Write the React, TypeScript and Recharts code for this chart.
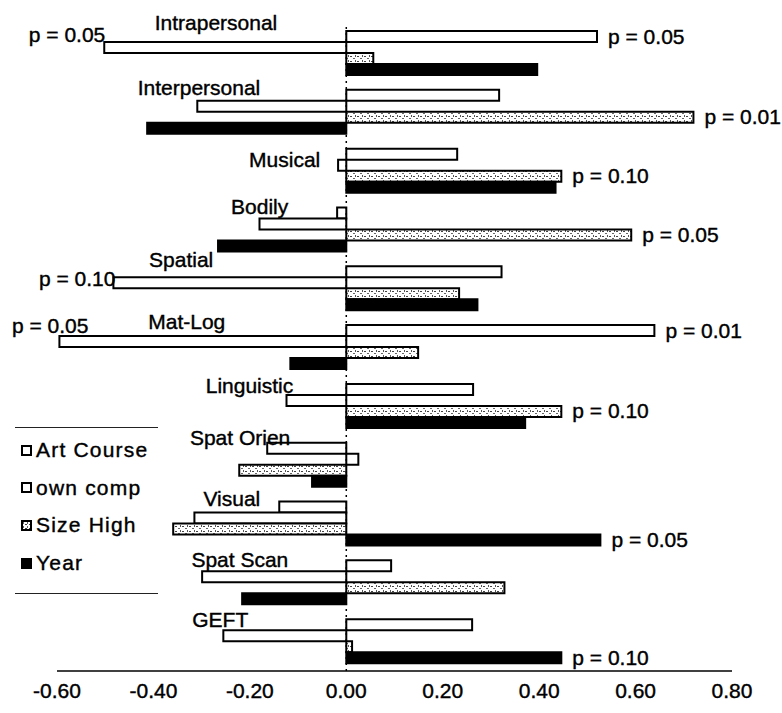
import { BarChart, Bar, XAxis, YAxis, ReferenceLine, LabelList } from 'recharts'

const CATEGORIES = [
  'Intrapersonal', 'Interpersonal', 'Musical', 'Bodily', 'Spatial', 'Mat-Log',
  'Linguistic', 'Spat Orien', 'Visual', 'Spat Scan', 'GEFT',
]

const ART_COURSE = [0.52, 0.317, 0.23, -0.019, 0.322, 0.639, 0.263, -0.164, -0.139, 0.093, 0.261]
const OWN_COMP   = [-0.502, -0.309, -0.017, -0.18, -0.483, -0.595, -0.124, 0.025, -0.315, -0.299, -0.255]
const SIZE_HIGH  = [0.056, 0.72, 0.446, 0.591, 0.234, 0.149, 0.446, -0.222, -0.359, 0.328, 0.012]
const YEAR       = [0.396, -0.413, 0.434, -0.266, 0.272, -0.116, 0.371, -0.071, 0.527, -0.216, 0.446]

// significance notes next to bars
const P_ART  = ['p = 0.05', '', '', '', '', 'p = 0.01', '', '', '', '', '']
const P_OWN  = ['p = 0.05', '', '', '', 'p = 0.10', 'p = 0.05', '', '', '', '', '']
const P_SIZE = ['', 'p = 0.01', 'p = 0.10', 'p = 0.05', '', '', 'p = 0.10', '', '', '', '']
const P_YEAR = ['', '', '', '', '', '', '', '', 'p = 0.05', '', 'p = 0.10']

const TICKS = [-0.6, -0.4, -0.2, 0, 0.2, 0.4, 0.6, 0.8]

// layout
const W = 782
const H = 713
const MARGIN = { top: 24, right: 50, bottom: 12, left: 57 }
const X_AXIS_H = 30
const DOMAIN: [number, number] = [-0.6, 0.8]
const PLOT_W = W - MARGIN.left - MARGIN.right
const ZERO_X = MARGIN.left + ((0 - DOMAIN[0]) / (DOMAIN[1] - DOMAIN[0])) * PLOT_W
const CAT_GAP = 7
const FONT = '"Liberation Sans", Arial, sans-serif'

// category label placement: right end relative to zero line, baseline from band top
const LABEL_DX = [-69, -86, -26, -58, -133, -121, -53, -56, -86, -58, -98]
const LABEL_BASE = [6, 12, 25, 14, 8, 11, 16, 9, 11, 14, 15]
const P_OFFSET: Record<string, [number, number]> = {
  'own-0': [1, -13],
  'own-4': [2, -4],
  'own-5': [29, -16],
}

const data = CATEGORIES.map((name, i) => ({
  name,
  art: ART_COURSE[i],
  own: OWN_COMP[i],
  size: SIZE_HIGH[i],
  year: YEAR[i],
  pArt: P_ART[i],
  pOwn: P_OWN[i],
  pSize: P_SIZE[i],
  pYear: P_YEAR[i],
}))

const textProps = {
  fontFamily: FONT,
  fontSize: 21,
  fill: '#000',
  stroke: '#000',
  strokeWidth: 0.4,
}

// category name drawn above its group, keyed off the first bar's top edge
function categoryLabel(props: any) {
  const { y, value, index } = props
  const bandTop = y - CAT_GAP
  return (
    <text
      x={ZERO_X + LABEL_DX[index]}
      y={bandTop + LABEL_BASE[index]}
      textAnchor="end"
      {...textProps}
    >
      {value}
    </text>
  )
}

const pLabel = (key: string) => (props: any) => {
  const { x, y, width, height, value, index } = props
  if (!value) return null
  const left = Math.min(x, x + width)
  const right = Math.max(x, x + width)
  const cy = y + height / 2
  const [dx, dy] = P_OFFSET[`${key}-${index}`] || [0, 0]
  const negative = right <= ZERO_X + 1
  return (
    <text
      x={negative ? left + dx : right + 11 + dx}
      y={cy + 7 + dy}
      textAnchor={negative ? 'end' : 'start'}
      {...textProps}
    >
      {value}
    </text>
  )
}

const legendItems = [
  { label: 'Art Course', fill: '#fff' },
  { label: 'own comp', fill: '#fff' },
  { label: 'Size High', fill: 'speck' },
  { label: 'Year', fill: '#000' },
]

function Legend() {
  return (
    <div style={{ position: 'absolute', left: 15, top: 427, width: 143, height: 165, borderTop: '1.5px solid #222', borderBottom: '1.5px solid #222', fontFamily: FONT }}>
      {legendItems.map((it, i) => (
        <div key={it.label} style={{ position: 'absolute', left: 6, top: 10 + i * 37.7, height: 24, display: 'flex', alignItems: 'center' }}>
          <svg width={11} height={11} style={{ marginRight: 4 }}>
            <defs>
              <pattern id={`lg${i}`} width={4} height={4} patternUnits="userSpaceOnUse">
                <rect width={4} height={4} fill="#fff" />
                <rect x={0} y={0} width={2} height={1} fill="#444" />
                <rect x={2} y={2} width={1} height={2} fill="#666" />
              </pattern>
            </defs>
            <rect x={1} y={1} width={9} height={9} fill={it.fill === 'speck' ? `url(#lg${i})` : it.fill} stroke="#000" strokeWidth={2} />
          </svg>
          <span style={{ fontSize: 21, letterSpacing: 1.2, color: '#000', lineHeight: '24px', WebkitTextStroke: '0.4px #000' }}>{it.label}</span>
        </div>
      ))}
    </div>
  )
}

export default function App() {
  return (
    <div style={{ position: 'absolute', left: 0, top: 0, width: W, height: H, background: '#fff' }}>
      <BarChart
        width={W}
        height={H}
        data={data}
        layout="vertical"
        margin={MARGIN}
        barCategoryGap={CAT_GAP}
        barGap={0}
      >
        <defs>
          <pattern id="speck" width={7} height={5} patternUnits="userSpaceOnUse">
            <rect width={7} height={5} fill="#fff" />
            <rect x={0} y={1} width={2} height={1} fill="#444" />
            <rect x={3} y={3} width={2} height={1} fill="#666" />
            <rect x={5} y={0} width={1} height={2} fill="#555" />
          </pattern>
        </defs>
        <XAxis
          type="number"
          domain={DOMAIN}
          ticks={TICKS}
          tickFormatter={(v: number) => v.toFixed(2)}
          height={X_AXIS_H}
          tickLine={false}
          tickSize={0}
          tickMargin={12}
          axisLine={{ stroke: '#000', strokeWidth: 1.5 }}
          tick={{ fontSize: 21, fill: '#000', fontFamily: FONT, stroke: '#000', strokeWidth: 0.4 }}
          allowDataOverflow
        />
        <YAxis type="category" dataKey="name" hide />
        <ReferenceLine x={0} stroke="#000" strokeDasharray="2 4" strokeWidth={1.5} />
        <Bar dataKey="art" fill="#fff" stroke="#000" strokeWidth={2} isAnimationActive={false}>
          <LabelList dataKey="name" content={categoryLabel} />
          <LabelList dataKey="pArt" content={pLabel('art')} />
        </Bar>
        <Bar dataKey="own" fill="#fff" stroke="#000" strokeWidth={2} isAnimationActive={false}>
          <LabelList dataKey="pOwn" content={pLabel('own')} />
        </Bar>
        <Bar dataKey="size" fill="url(#speck)" stroke="#000" strokeWidth={2} isAnimationActive={false}>
          <LabelList dataKey="pSize" content={pLabel('size')} />
        </Bar>
        <Bar dataKey="year" fill="#000" stroke="#000" strokeWidth={2} isAnimationActive={false}>
          <LabelList dataKey="pYear" content={pLabel('year')} />
        </Bar>
      </BarChart>
      <Legend />
    </div>
  )
}
